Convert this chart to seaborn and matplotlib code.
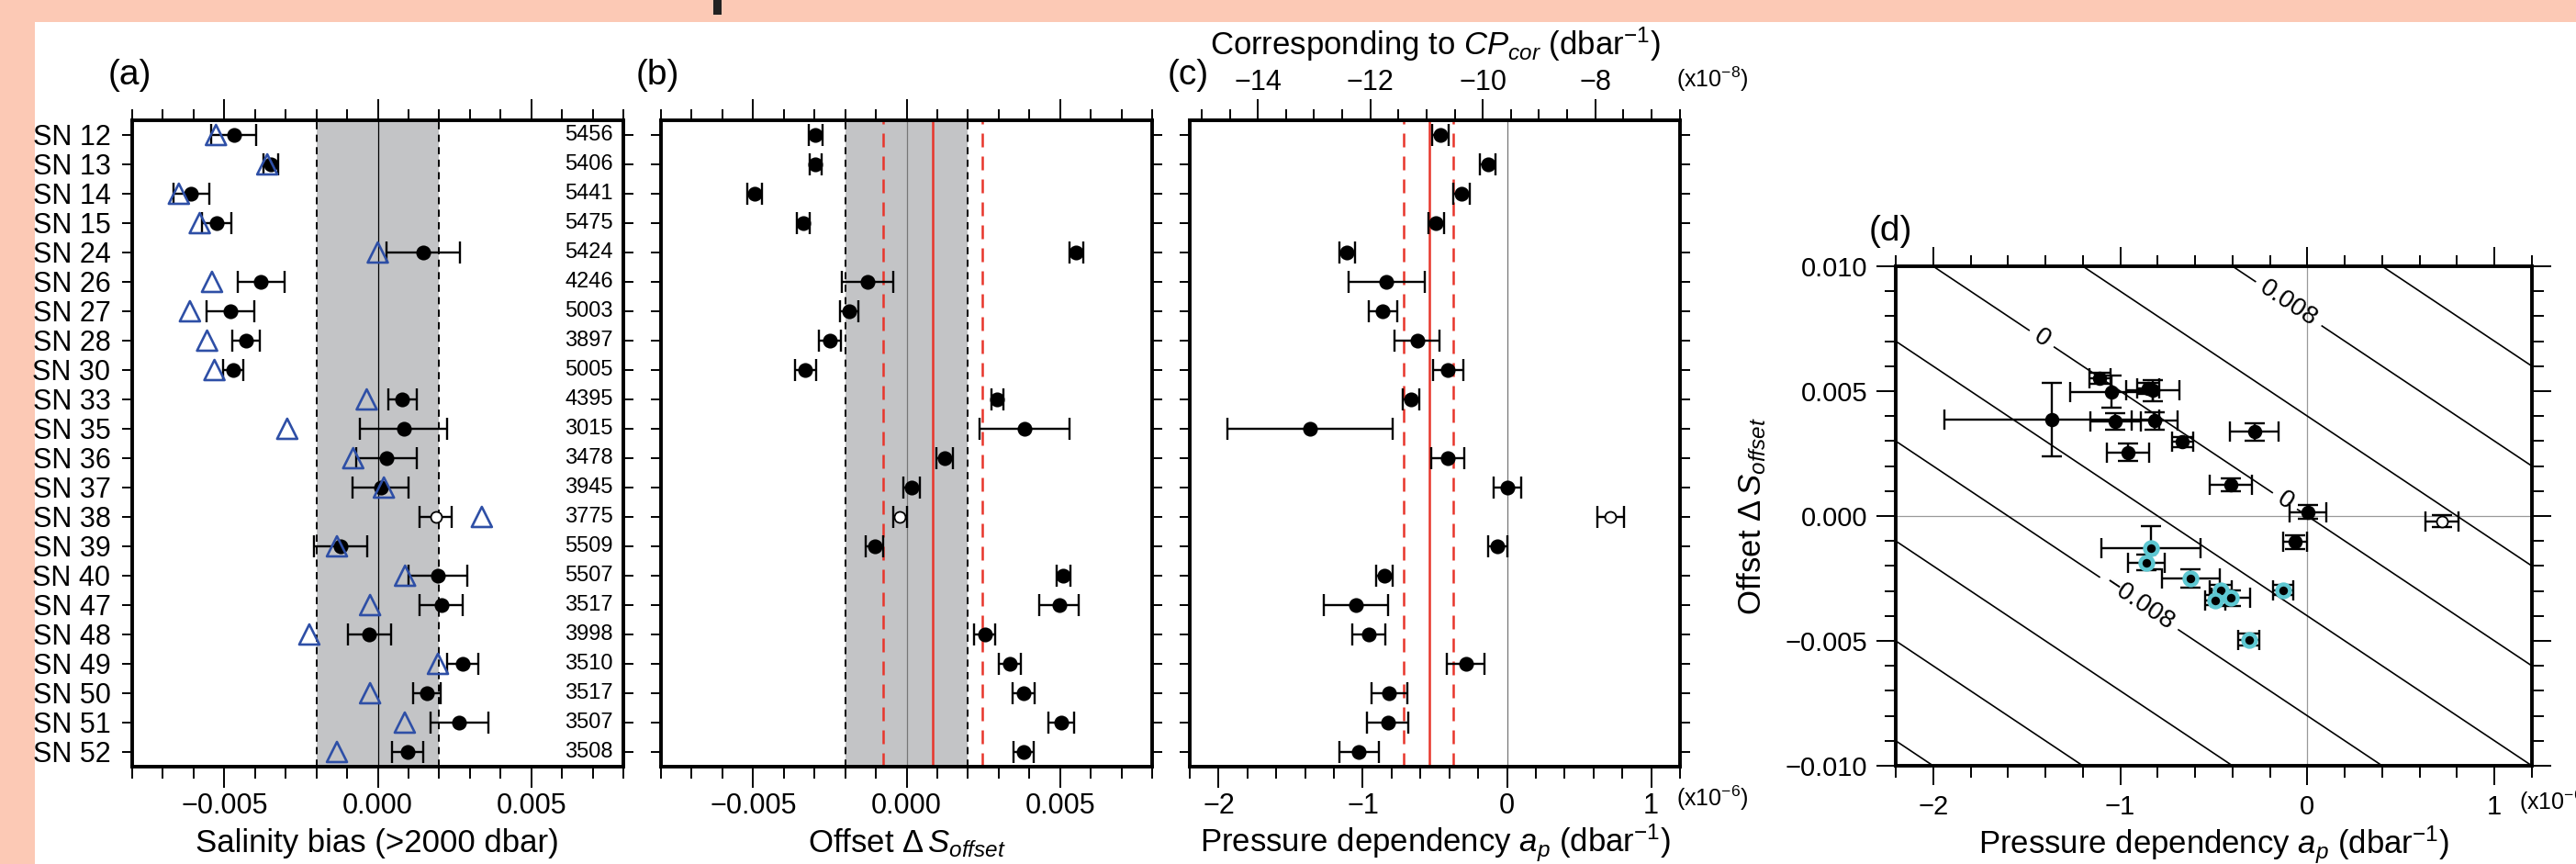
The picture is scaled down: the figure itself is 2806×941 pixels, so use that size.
import numpy as np
import pandas as pd
import matplotlib
matplotlib.use("Agg")
import matplotlib.pyplot as plt
import seaborn as sns
from matplotlib.patches import Rectangle
from matplotlib.ticker import MultipleLocator, FixedLocator, FuncFormatter

# ---- values ------------------------------------------------------------
stations = ["SN 12", "SN 13", "SN 14", "SN 15", "SN 24", "SN 26", "SN 27", "SN 28",
            "SN 30", "SN 33", "SN 35", "SN 36", "SN 37", "SN 38", "SN 39", "SN 40",
            "SN 47", "SN 48", "SN 49", "SN 50", "SN 51", "SN 52"]
max_depth = [5456, 5406, 5441, 5475, 5424, 4246, 5003, 3897, 5005, 4395, 3015,
             3478, 3945, 3775, 5509, 5507, 3517, 3998, 3510, 3517, 3507, 3508]

# (a) salinity bias below 2000 dbar (x1e-3)
bias = [-4.69, -3.47, -6.08, -5.25, 1.49, -3.81, -4.81, -4.29, -4.72, 0.80, 0.84,
        0.29, 0.09, 1.89, -1.20, 1.95, 2.07, -0.27, 2.77, 1.60, 2.65, 0.97]
bias_err = [0.73, 0.24, 0.58, 0.47, 1.20, 0.76, 0.78, 0.46, 0.33, 0.47, 1.43,
            0.99, 0.90, 0.53, 0.87, 0.96, 0.70, 0.69, 0.50, 0.44, 0.94, 0.50]
bias_corrected = [-5.27, -3.60, -6.48, -5.80, 0.00, -5.40, -6.12, -5.56, -5.32, -0.36, -2.95,
                  -0.80, 0.20, 3.39, -1.33, 0.89, -0.25, -2.23, 1.96, -0.25, 0.88, -1.33]

# (b) offset dS_offset (x1e-3)
offset = [-2.97, -2.97, -4.95, -3.37, 5.53, -1.27, -1.87, -2.51, -3.29, 2.96, 3.85,
          1.25, 0.16, -0.21, -1.04, 5.11, 4.97, 2.55, 3.37, 3.81, 5.03, 3.80]
offset_err = [0.22, 0.20, 0.24, 0.20, 0.22, 0.85, 0.31, 0.36, 0.33, 0.20, 1.47,
              0.27, 0.27, 0.23, 0.28, 0.23, 0.65, 0.34, 0.36, 0.35, 0.42, 0.33]

# (c) pressure dependency a_p (x1e-6 dbar^-1)
ap = [-0.463, -0.131, -0.313, -0.492, -1.109, -0.836, -0.861, -0.623, -0.409, -0.668, -1.365,
      -0.409, 0.003, 0.719, -0.065, -0.850, -1.046, -0.958, -0.284, -0.816, -0.827, -1.026]
ap_err = [0.057, 0.054, 0.057, 0.054, 0.055, 0.264, 0.098, 0.154, 0.104, 0.057, 0.574,
          0.114, 0.098, 0.090, 0.065, 0.058, 0.222, 0.112, 0.131, 0.122, 0.142, 0.135]

excluded = ["SN 38"]
cyan_floats = ["SN 12", "SN 13", "SN 14", "SN 15", "SN 26", "SN 27", "SN 28", "SN 30"]

bias_band = 0.002
offset_mean = 0.00085
offset_limits = [-0.00077, 0.00248]
ap_mean = -0.54
ap_limits = [-0.716, -0.375]
cp_at_zero = -9.57      # CP_cor (x1e-8) giving a_p = 0
ap_per_cp = 0.39        # a_p (x1e-6) per CP_cor (x1e-8)
ref_pressure = 5000     # dbar, for the S-bias lines in (d)
contour_levels = [-0.020, -0.016, -0.012, -0.004, 0.004, 0.012, 0.016]
labelled_levels = [-0.008, 0.0, 0.008]

df = pd.DataFrame({
    "station": stations,
    "row": np.arange(len(stations)),
    "bias": np.array(bias) * 1e-3,
    "bias_err": np.array(bias_err) * 1e-3,
    "bias_corr": np.array(bias_corrected) * 1e-3,
    "offset": np.array(offset) * 1e-3,
    "offset_err": np.array(offset_err) * 1e-3,
    "ap": ap,
    "ap_err": ap_err,
})
df["used"] = ~df["station"].isin(excluded)
df["cyan"] = df["station"].isin(cyan_floats)

# ---- style ---------------------------------------------------------------
sns.set_theme(style="ticks")
plt.rcParams["font.family"] = ["Liberation Sans", "DejaVu Sans"]
plt.rcParams.update({
    "mathtext.fontset": "custom",
    "mathtext.rm": "Liberation Sans",
    "mathtext.it": "Liberation Sans:italic",
    "mathtext.bf": "Liberation Sans:bold",
    "axes.edgecolor": "black",
    "xtick.color": "black",
    "ytick.color": "black",
    "text.color": "black",
    "axes.labelcolor": "black",
    "contour.negative_linestyle": "solid",
})

SALMON = "#fcc9b5"
BLUE = "#2e4fa6"
CYAN = "#5ec8d2"
RED = "#e8352b"
GREY_BAND = "#c3c4c6"
FS = 22        # tick labels
FS_LAB = 25    # axis titles
FS_PANEL = 28  # (a) ... (d)

W, H = 2806, 941
fig = plt.figure(figsize=(W / 100, H / 100), dpi=100, facecolor=SALMON)
fig.patches.append(Rectangle((38 / W, 0), 1 - 38 / W, 1 - 24 / H,
                             transform=fig.transFigure, facecolor="white",
                             edgecolor="none", zorder=-10))
fig.patches.append(Rectangle((777 / W, 1 - 16 / H), 9 / W, 16 / H,
                             transform=fig.transFigure, facecolor="#222222",
                             edgecolor="none", zorder=-9))


def px_rect(x0, y0, x1, y1):
    return [x0 / W, 1 - y1 / H, (x1 - x0) / W, (y1 - y0) / H]


def minus(fmt):
    return FuncFormatter(lambda v, p: (fmt % v).replace("-", "\u2212"))


ax_a = fig.add_axes(px_rect(144, 131, 679, 835))
ax_b = fig.add_axes(px_rect(720, 131, 1255, 835))
ax_c = fig.add_axes(px_rect(1296, 131, 1830, 835))
ax_d = fig.add_axes(px_rect(2065, 290, 2758, 834))

rows = df["row"].values
used = df[df["used"]]
unused = df[~df["used"]]


def row_panel(ax, col, err):
    ax.errorbar(df[col], rows, xerr=df[err], fmt="none", ecolor="black",
                elinewidth=1.7, capsize=8.5, capthick=1.7, zorder=3)
    sns.scatterplot(data=used, x=col, y="row", ax=ax, color="black", s=135,
                    marker="o", edgecolor="black", linewidth=0, zorder=4, legend=False)
    sns.scatterplot(data=unused, x=col, y="row", ax=ax, s=75, marker="o",
                    facecolor="white", edgecolor="black", linewidth=1.3, zorder=4,
                    legend=False)
    ax.set_xlabel("")
    ax.set_ylabel("")
    ax.set_ylim(len(stations) - 0.5, -0.5)
    ax.set_yticks(rows)
    ax.tick_params(axis="y", which="major", direction="out", length=8, width=1.4,
                   left=True, right=True, labelleft=False, labelright=False)
    for s in ax.spines.values():
        s.set_linewidth(2.8)


def salinity_xaxis(ax):
    ax.set_xlim(-0.008, 0.008)
    ax.xaxis.set_major_locator(FixedLocator([-0.005, 0.0, 0.005]))
    ax.xaxis.set_minor_locator(MultipleLocator(0.001))
    ax.xaxis.set_major_formatter(minus("%.3f"))
    ax.tick_params(axis="x", which="major", direction="out", length=16.5, width=1.4,
                   top=True, bottom=True, labeltop=False, labelsize=FS, pad=3.5)
    ax.tick_params(axis="x", which="minor", direction="out", length=9, width=1.4,
                   top=True, bottom=True)


# ---- (a) salinity bias ----------------------------------------------------
ax_a.axvspan(-bias_band, bias_band, color=GREY_BAND, zorder=0, lw=0)
for v in (-bias_band, bias_band):
    ax_a.axvline(v, color="black", lw=1.4, ls=(0, (4, 3)), zorder=1)
ax_a.axvline(0, color="black", lw=0.9, zorder=1)
row_panel(ax_a, "bias", "bias_err")
sns.scatterplot(data=df, x="bias_corr", y="row", ax=ax_a, marker="^", s=250,
                facecolor="none", edgecolor=BLUE, linewidth=1.9, zorder=5, legend=False)
ax_a.set_xlabel("")
ax_a.set_ylabel("")
salinity_xaxis(ax_a)
ax_a.set_yticklabels(stations)
ax_a.tick_params(axis="y", labelleft=True, labelsize=FS, pad=9)
for r, d in zip(rows, max_depth):
    ax_a.text(0.979, r, str(d), transform=ax_a.get_yaxis_transform(),
              ha="right", va="center", fontsize=17)

# ---- (b) offset -----------------------------------------------------------
ax_b.axvspan(-bias_band, bias_band, color=GREY_BAND, zorder=0, lw=0)
for v in (-bias_band, bias_band):
    ax_b.axvline(v, color="black", lw=1.4, ls=(0, (4, 3)), zorder=1)
ax_b.axvline(0, color="#777777", lw=0.9, zorder=1)
ax_b.axvline(offset_mean, color=RED, lw=1.8, zorder=2)
for v in offset_limits:
    ax_b.axvline(v, color=RED, lw=1.8, ls=(0, (6, 4)), zorder=2)
row_panel(ax_b, "offset", "offset_err")
salinity_xaxis(ax_b)

# ---- (c) pressure dependency -----------------------------------------------
ax_c.axvline(0, color="#777777", lw=0.9, zorder=1)
ax_c.axvline(ap_mean, color=RED, lw=1.8, zorder=2)
for v in ap_limits:
    ax_c.axvline(v, color=RED, lw=1.8, ls=(0, (6, 4)), zorder=2)
row_panel(ax_c, "ap", "ap_err")
ax_c.set_xlim(-2.2, 1.2)
ax_c.xaxis.set_major_locator(FixedLocator([-2, -1, 0, 1]))
ax_c.xaxis.set_minor_locator(MultipleLocator(0.2))
ax_c.xaxis.set_major_formatter(minus("%d"))
ax_c.tick_params(axis="x", which="major", direction="out", length=16.5, width=1.4,
                 top=False, labelsize=FS, pad=3.5)
ax_c.tick_params(axis="x", which="minor", direction="out", length=9, width=1.4, top=False)

sec = ax_c.secondary_xaxis("top", functions=(lambda a: cp_at_zero + np.asarray(a) / ap_per_cp,
                                              lambda c: (np.asarray(c) - cp_at_zero) * ap_per_cp))
sec.xaxis.set_major_locator(FixedLocator([-14, -12, -10, -8]))
sec.xaxis.set_minor_locator(MultipleLocator(0.5))
sec.xaxis.set_major_formatter(minus("%d"))
sec.tick_params(axis="x", which="major", direction="out", length=16.5, width=1.4,
                labelsize=FS, pad=2)
sec.tick_params(axis="x", which="minor", direction="out", length=9, width=1.4)
sec.spines["top"].set_linewidth(2.8)

# ---- (d) offset vs pressure dependency --------------------------------------
gx, gy = np.meshgrid(np.linspace(-2.2, 1.2, 300), np.linspace(-0.01, 0.01, 300))
gz = gy + ref_pressure * gx * 1e-6
ax_d.contour(gx, gy, gz, levels=contour_levels, colors="black", linewidths=1.2,
             linestyles="solid", zorder=1)
cs_lab = ax_d.contour(gx, gy, gz, levels=labelled_levels, colors="black",
                      linewidths=1.2, linestyles="solid", zorder=1)
ax_d.clabel(cs_lab, inline=True, inline_spacing=8, fontsize=20,
            fmt=lambda v: "0" if abs(v) < 1e-9 else ("%.3f" % v).replace("-", "\u2212"),
            manual=[(-1.42, 0.0071), (-0.12, 0.0006), (-0.10, 0.0085), (-0.90, -0.0035)])
ax_d.axhline(0, color="#999999", lw=0.9, zorder=0.5)
ax_d.axvline(0, color="#999999", lw=0.9, zorder=0.5)
ax_d.errorbar(df["ap"], df["offset"], xerr=df["ap_err"], yerr=df["offset_err"],
              fmt="none", ecolor="black", elinewidth=1.7, capsize=8, capthick=1.7, zorder=3)
sns.scatterplot(data=used[~used["cyan"]], x="ap", y="offset", ax=ax_d, color="black",
                s=125, linewidth=0, zorder=4, legend=False)
sns.scatterplot(data=used[used["cyan"]], x="ap", y="offset", ax=ax_d, color="black",
                s=100, edgecolor=CYAN, linewidth=3.2, zorder=4, legend=False)
sns.scatterplot(data=unused, x="ap", y="offset", ax=ax_d, s=75, facecolor="white",
                edgecolor="black", linewidth=1.3, zorder=4, legend=False)
ax_d.set_xlabel("")
ax_d.set_ylabel("")
ax_d.set_xlim(-2.2, 1.2)
ax_d.set_ylim(-0.010, 0.010)
ax_d.xaxis.set_major_locator(FixedLocator([-2, -1, 0, 1]))
ax_d.xaxis.set_minor_locator(MultipleLocator(0.2))
ax_d.xaxis.set_major_formatter(minus("%d"))
ax_d.yaxis.set_major_locator(MultipleLocator(0.005))
ax_d.yaxis.set_minor_locator(MultipleLocator(0.001))
ax_d.yaxis.set_major_formatter(minus("%.3f"))
ax_d.tick_params(which="major", direction="out", length=15, width=1.4,
                 top=True, right=True, labelsize=FS - 1, pad=7)
ax_d.tick_params(which="minor", direction="out", length=9, width=1.4, top=True, right=True)
for s in ax_d.spines.values():
    s.set_linewidth(2.8)

# ---- texts ------------------------------------------------------------------
def ftext(x, y, s, **kw):
    kw.setdefault("fontsize", FS_LAB)
    fig.text(x / W, 1 - y / H, s, **kw)


ftext(118, 92, "(a)", fontsize=FS_PANEL, va="baseline")
ftext(693, 92, "(b)", fontsize=FS_PANEL, va="baseline")
ftext(1272, 92, "(c)", fontsize=FS_PANEL, va="baseline")
ftext(2036, 262, "(d)", fontsize=FS_PANEL, va="baseline")

ftext(411, 928, "Salinity bias (>2000 dbar)", ha="center", va="baseline")
ftext(988, 928, r"Offset $\Delta\,S_{offset}$", ha="center", va="baseline")
ftext(1563, 928, r"Pressure dependency $a_p$ (dbar$^{-1}$)", ha="center", va="baseline")
ftext(2411, 930, r"Pressure dependency $a_p$ (dbar$^{-1}$)", ha="center", va="baseline")
ftext(1563, 60, r"Corresponding to $CP_{cor}$ (dbar$^{-1}$)", ha="center", va="baseline")
ftext(1908, 562, r"Offset $\Delta\,S_{offset}$", ha="center", va="center", rotation=90)

ftext(1826, 95, r"(x10$^{-8}$)", fontsize=18, va="baseline")
ftext(1826, 878, r"(x10$^{-6}$)", fontsize=18, va="baseline")
# the reference crops this one at the right edge of the image
ftext(2744, 882, r"(x10$^{-6}$)", fontsize=18, va="baseline")

fig.savefig("out.png", dpi=100, facecolor=fig.get_facecolor())
